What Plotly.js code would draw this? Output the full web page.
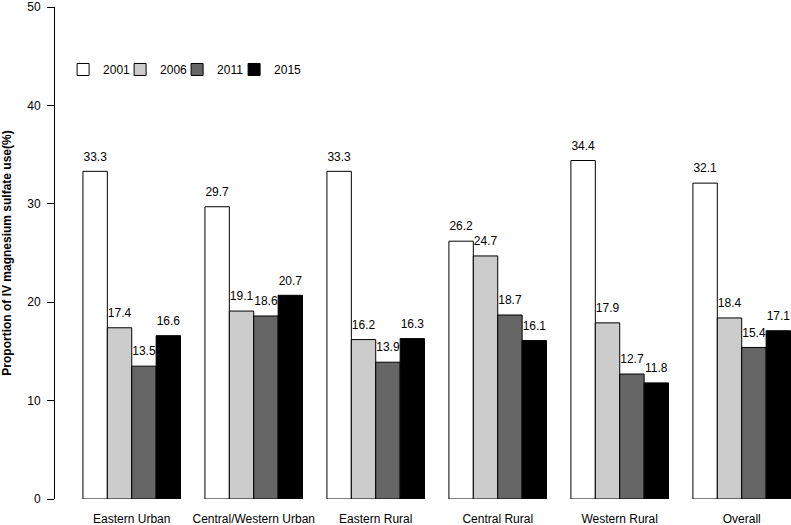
<!DOCTYPE html>
<html>
<head>
<meta charset="utf-8">
<script src="https://cdn.plot.ly/plotly-3.0.1.min.js"></script>
<style>html,body{margin:0;padding:0;background:#fff;}#chart{width:791px;height:525px;}</style>
</head>
<body>
<div id="chart"></div>
<script>
var categories = ["Eastern Urban", "Central/Western Urban", "Eastern Rural", "Central Rural", "Western Rural", "Overall"];
var years = ["2001", "2006", "2011", "2015"];
var v2001 = [33.3, 29.7, 33.3, 26.2, 34.4, 32.1];
var v2006 = [17.4, 19.1, 16.2, 24.7, 17.9, 18.4];
var v2011 = [13.5, 18.6, 13.9, 18.7, 12.7, 15.4];
var v2015 = [16.6, 20.7, 16.3, 16.1, 11.8, 17.1];
var series = [v2001, v2006, v2011, v2015];
var colors = ["#ffffff", "#cccccc", "#666666", "#000000"];

var barW = 0.2;
var labelOffset = 1.4;
var idx = categories.map(function (c, i) { return i; });
var traces = [];
series.forEach(function (vals, j) {
  var xs = idx.map(function (i) { return i + (j - 1.5) * barW; });
  traces.push({
    type: "bar", x: xs, y: vals, width: barW, name: years[j],
    legendwidth: j === series.length - 1 ? 32 : 12,
    marker: { color: colors[j], line: { color: "#000", width: 1 } },
    hoverinfo: "skip"
  });
});
series.forEach(function (vals, j) {
  var xs = idx.map(function (i) { return i + (j - 1.5) * barW; });
  traces.push({
    type: "scatter", mode: "text", x: xs,
    y: vals.map(function (v) { return v + labelOffset; }),
    text: vals.map(function (v) { return v.toFixed(1); }),
    textposition: "middle center",
    textfont: { family: "Liberation Sans, Arial, sans-serif", size: 12, color: "#000" },
    showlegend: false, cliponaxis: false, hoverinfo: "skip"
  });
});

var layout = {
  width: 791, height: 525,
  margin: { l: 55, r: 0, t: 6.5, b: 26.3 },
  paper_bgcolor: "#fff", plot_bgcolor: "#fff",
  font: { family: "Liberation Sans, Arial, sans-serif", size: 12, color: "#000" },
  barmode: "overlay",
  showlegend: true,
  legend: {
    orientation: "h", x: 0.011, xanchor: "left", y: 0.873, yanchor: "middle",
    font: { size: 12 }, bgcolor: "rgba(0,0,0,0)"
  },
  xaxis: {
    range: [-0.629, 5.404], tickvals: idx, ticktext: categories,
    showline: false, showgrid: false, zeroline: false, ticks: "",
    ticklabelstandoff: 11, fixedrange: true
  },
  yaxis: {
    range: [0, 50], tickvals: [0, 10, 20, 30, 40, 50],
    showline: true, linecolor: "#000", linewidth: 1,
    ticks: "outside", ticklen: 7, tickcolor: "#000", tickwidth: 1,
    showgrid: false, zeroline: false, ticklabelstandoff: 4,
    ticklabeloverflow: "allow",
    title: { text: "Proportion of IV magnesium sulfate use(%)", font: { size: 12, weight: "bold" }, standoff: 17 },
    fixedrange: true
  }
};
Plotly.newPlot("chart", traces, layout, { displayModeBar: false, staticPlot: true });
</script>
</body>
</html>
